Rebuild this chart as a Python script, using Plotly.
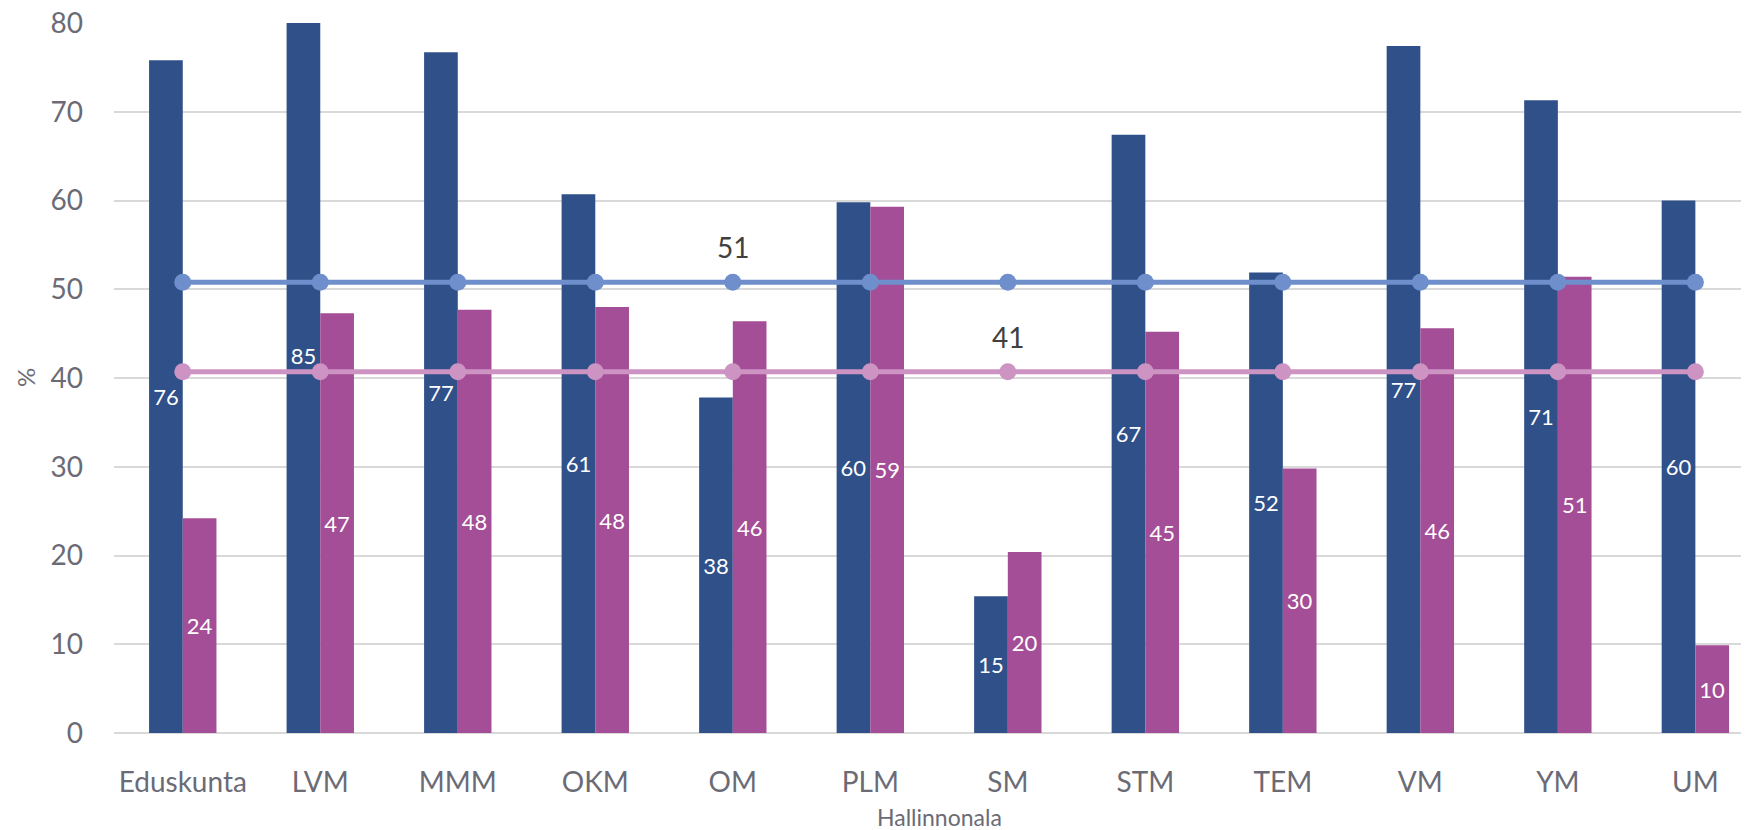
import plotly.graph_objects as go

categories = ["Eduskunta", "LVM", "MMM", "OKM", "OM", "PLM", "SM", "STM", "TEM", "VM", "YM", "UM"]
series_a = [75.8, 85.0, 76.7, 60.7, 37.8, 59.8, 15.4, 67.4, 51.9, 77.4, 71.3, 60.0]
series_b = [24.2, 47.3, 47.7, 48.0, 46.4, 59.3, 20.4, 45.2, 29.8, 45.6, 51.4, 9.9]
mean_a = 50.8
mean_b = 40.7
mean_a_label_at = "OM"
mean_b_label_at = "SM"
y_ticks = [0, 10, 20, 30, 40, 50, 60, 70, 80]

FONT = "Lato"
BLUE = "#2F5089"
PURPLE = "#A34E96"
LBLUE = "#6E8FCB"
PINK = "#CD93C3"
GRAY = "#6b6b76"

fig = go.Figure()
fig.add_trace(go.Bar(x=categories, y=series_a, marker=dict(color=BLUE, line=dict(width=0)),
                     texttemplate="%{y:.0f}", textposition="inside", insidetextanchor="middle",
                     textangle=0, textfont=dict(color="white", size=22, family=FONT),
                     showlegend=False))
fig.add_trace(go.Bar(x=categories, y=series_b, marker=dict(color=PURPLE, line=dict(width=0)),
                     texttemplate="%{y:.0f}", textposition="inside", insidetextanchor="middle",
                     textangle=0, textfont=dict(color="white", size=22, family=FONT),
                     showlegend=False))
fig.add_trace(go.Scatter(x=categories, y=[mean_a] * len(categories), mode="lines+markers",
                         line=dict(color=LBLUE, width=5), marker=dict(color=LBLUE, size=17),
                         showlegend=False))
fig.add_trace(go.Scatter(x=categories, y=[mean_b] * len(categories), mode="lines+markers",
                         line=dict(color=PINK, width=5), marker=dict(color=PINK, size=17),
                         showlegend=False))

fig.add_annotation(x=mean_a_label_at, y=mean_a, text=f"{mean_a:.0f}", showarrow=False,
                   yshift=35, font=dict(size=28, color="#404040", family=FONT))
fig.add_annotation(x=mean_b_label_at, y=mean_b, text=f"{mean_b:.0f}", showarrow=False,
                   yshift=35, font=dict(size=28, color="#404040", family=FONT))

# axis titles
fig.add_annotation(x=5.5, xref="x", y=-0.119, yref="paper", text="Hallinnonala", showarrow=False,
                   font=dict(size=23, color=GRAY, family=FONT), yanchor="middle", xanchor="center")
fig.add_annotation(x=-0.0544, xref="paper", y=0.5, yref="paper", text="%", showarrow=False,
                   textangle=-90, font=dict(size=24, color=GRAY, family=FONT),
                   xanchor="center", yanchor="middle")

# page body has an 8px default margin; compensate so the plot sits where the reference has it
fig.update_layout(
    width=1741, height=822,
    margin=dict(l=106, r=0, t=15, b=97, autoexpand=False),
    plot_bgcolor="white", paper_bgcolor="white",
    barmode="group", bargap=0.51, bargroupgap=0,
    uniformtext=dict(minsize=22, mode="show"),
    font=dict(family=FONT, color=GRAY),
)
fig.update_xaxes(type="category", range=[-0.5, 11.39], showgrid=False, zeroline=False,
                 showline=False, ticks="", tickfont=dict(size=28, color=GRAY, family=FONT),
                 ticklabelstandoff=30, automargin=False)
fig.update_yaxes(range=[0, 80], tickvals=y_ticks, showgrid=True, gridcolor="#d9d9d9", gridwidth=2,
                 zeroline=True, zerolinecolor="#d9d9d9", zerolinewidth=2, showline=False, ticks="",
                 tickfont=dict(size=28, color=GRAY, family=FONT), ticklabelstandoff=30,
                 ticklabeloverflow="allow", automargin=False)

fig.write_html("out.html")
